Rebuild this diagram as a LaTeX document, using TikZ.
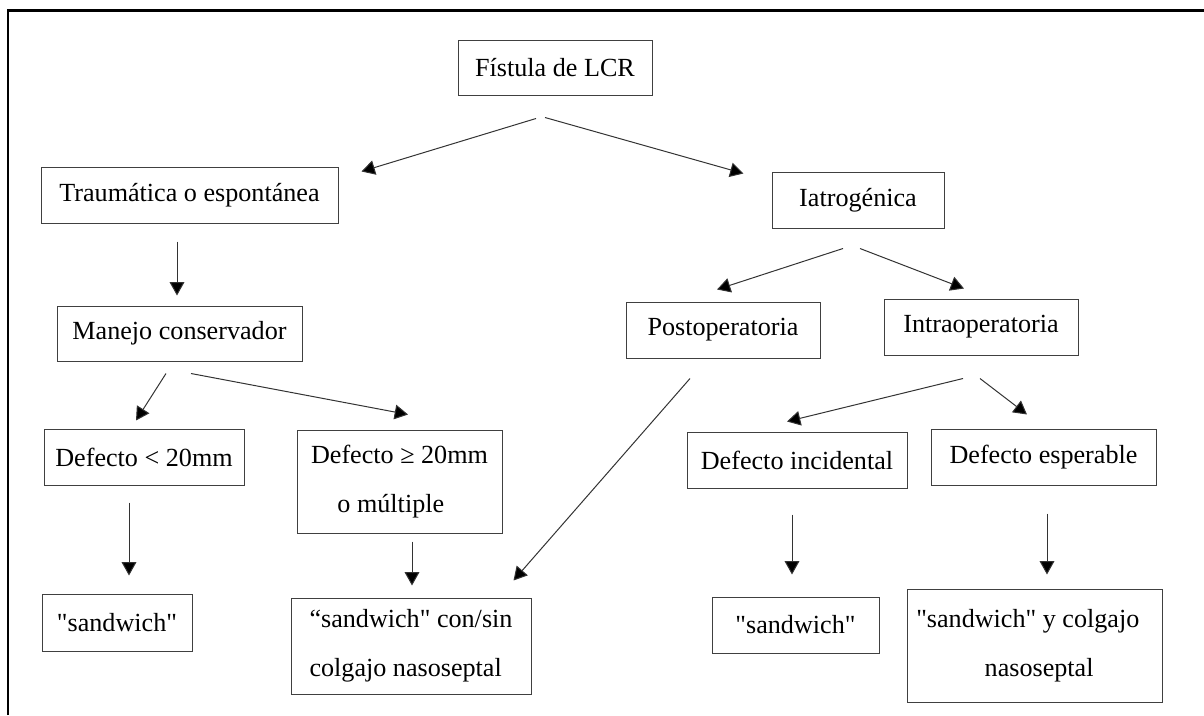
\documentclass[tikz,border=0pt]{standalone}
\usepackage{fontspec}
\newfontfamily\serfont{Liberation Serif}
\usetikzlibrary{arrows.meta}
\begin{document}
\begin{tikzpicture}[x=0.75pt,y=-0.75pt,
  every node/.style={font=\serfont\fontsize{19.6}{36.5}\selectfont},
  bx/.style={draw=black!75, line width=0.75pt, inner sep=0pt, align=center},
  arr/.style={draw=black!80, line width=0.75pt, -{Triangle[length=10pt,width=11pt,fill=black]}}]
\useasboundingbox (0,0) rectangle (1204,715);
\draw[line width=1.6pt] (8,715) -- (8,10.5) -- (1204,10.5);

\node[bx, minimum width=145.5pt, minimum height=41.25pt] (fist) at (555,67.5) {Fístula de LCR};
\node[bx, minimum width=222.75pt, minimum height=42pt] (traum) at (189.5,195) {Traumática o espontánea};
\node[bx, minimum width=183.75pt, minimum height=41.25pt] (manejo) at (179.5,333.5) {Manejo conservador};
\node[bx, minimum width=129pt, minimum height=42pt] (iatro) at (858,200) {Iatrogénica};
\node[bx, minimum width=145.5pt, minimum height=42pt] (postop) at (723,330) {Postoperatoria};
\node[bx, minimum width=145.5pt, minimum height=42pt] (intraop) at (981,327) {Intraoperatoria};
\node[bx, minimum width=150pt, minimum height=42pt] (d1) at (144,457) {Defecto < 20mm};
\node[bx, minimum width=153.75pt, minimum height=77.25pt] (d2) at (399.5,481.5) {Defecto ≥ 20mm\\o múltiple\hspace*{13pt}};
\node[bx, minimum width=112.5pt, minimum height=42.75pt] (sand1) at (117,622.5) {"sandwich"};
\node[bx, minimum width=180pt, minimum height=72pt, align=left] (consin) at (411,646) {“sandwich" con/sin\\colgajo nasoseptal};
\node[bx, minimum width=165pt, minimum height=42pt] (incid) at (797,460) {Defecto incidental};
\node[bx, minimum width=168.75pt, minimum height=42pt] (esper) at (1043.5,457) {Defecto esperable};
\node[bx, minimum width=125.25pt, minimum height=42pt] (sand2) at (795.5,625) {"sandwich"};
\node[bx, minimum width=191.25pt, minimum height=84.75pt] (ycolg) at (1034.5,645.5) {"sandwich" y colgajo\hspace*{10pt}\\\hspace*{7pt}nasoseptal};

\draw[arr] ([shift={(-19,23)}]fist.south) -- ([shift={(23,5)}]traum.north east);
\draw[arr] ([shift={(-10,22)}]fist.south) -- ([shift={(-28,2)}]iatro.north west);
\draw[arr] ([shift={(-12.5,18)}]traum.south) -- ([shift={(-2.5,-10)}]manejo.north);
\draw[arr] ([shift={(-15,20)}]iatro.south) -- ([shift={(-6,-12)}]postop.north);
\draw[arr] ([shift={(2,20)}]iatro.south) -- ([shift={(-17,-10)}]intraop.north);
\draw[arr] ([shift={(-13.5,12)}]manejo.south) -- ([shift={(-8,-8)}]d1.north);
\draw[arr] ([shift={(11.5,12)}]manejo.south) -- ([shift={(8.5,-15)}]d2.north);
\draw[arr] ([shift={(-33,20)}]postop.south) -- ([shift={(-18,-17)}]consin.north east);
\draw[arr] ([shift={(-15,17)}]d1.south) -- ([shift={(12,-18)}]sand1.north);
\draw[arr] ([shift={(12.5,8)}]d2.south) -- ([shift={(1,-12)}]consin.north);
\draw[arr] ([shift={(-18,23)}]intraop.south) -- ([shift={(-10,-10)}]incid.north);
\draw[arr] ([shift={(-1,23)}]intraop.south) -- ([shift={(-16.5,-14)}]esper.north);
\draw[arr] ([shift={(-5,26)}]incid.south) -- ([shift={(-3.5,-22)}]sand2.north);
\draw[arr] ([shift={(3.5,28)}]esper.south) -- ([shift={(12.5,-14)}]ycolg.north);
\end{tikzpicture}
\end{document}
